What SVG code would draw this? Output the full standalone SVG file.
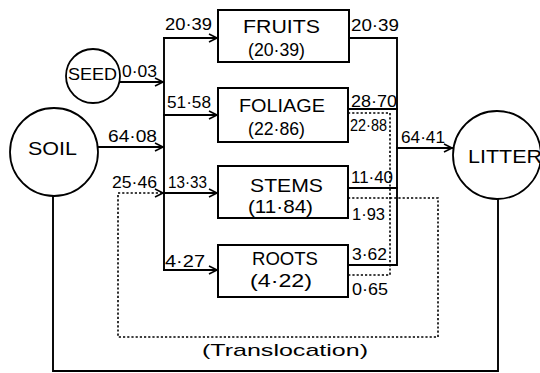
<svg xmlns="http://www.w3.org/2000/svg" width="540" height="373" viewBox="0 0 540 373">
<style>
.ln{fill:none;stroke:#000;stroke-width:1.9;stroke-linecap:square}
.dt{fill:none;stroke:#000;stroke-width:1.6;stroke-dasharray:2.2 2}
.bx{fill:#fff;stroke:#000;stroke-width:2}
.nd{fill:#fff;stroke:#000;stroke-width:1.8}
.t{font-family:"Liberation Sans",Arial,sans-serif;font-size:17px;fill:#000}
.b{font-family:"Liberation Sans",Arial,sans-serif;font-size:19px;fill:#000}
</style>
<defs>
<marker id="ah" markerUnits="userSpaceOnUse" markerWidth="12" markerHeight="12" refX="9" refY="5" orient="auto">
<path d="M1,1 L9,5 L1,9" fill="none" stroke="#000" stroke-width="1.6"/>
</marker>
</defs>
<rect width="540" height="373" fill="#fff"/>
<g id="connectors">
<path class="ln" d="M164,38 V270"/>
<path class="ln" d="M164,38 H217" marker-end="url(#ah)"/>
<path class="ln" d="M164,115 H217" marker-end="url(#ah)"/>
<path class="ln" d="M164,193 H217" marker-end="url(#ah)"/>
<path class="ln" d="M164,270 H217" marker-end="url(#ah)"/>
<path class="ln" d="M120,82 H163" marker-end="url(#ah)"/>
<path class="ln" d="M98,147 H163" marker-end="url(#ah)"/>
<path class="ln" d="M349,38 H397 V265 H348"/>
<path class="ln" d="M348,109 H397"/>
<path class="ln" d="M348,188 H397"/>
<path class="ln" d="M397,148 H452" marker-end="url(#ah)"/>
<path class="dt" d="M348,113 H390 V275 H348"/>
<path class="dt" d="M348,198 H438 V337 H118 V193 H163" marker-end="url(#ah)"/>
<path class="ln" d="M53,196 V371 H498 V199"/>
</g>
<g id="seed"><circle class="nd" cx="93" cy="76" r="27"/><text class="t" x="68" y="80" textLength="49" lengthAdjust="spacingAndGlyphs">SEED</text></g>
<g id="soil"><circle class="nd" cx="54" cy="152" r="44"/><text class="b" x="28" y="155" textLength="49" lengthAdjust="spacingAndGlyphs">SOIL</text></g>
<g id="litter"><circle class="nd" cx="497" cy="155" r="44"/><text class="b" x="468" y="163" textLength="74" lengthAdjust="spacingAndGlyphs">LITTER</text></g>
<g id="fruits"><rect class="bx" x="218" y="10" width="131" height="52"/><text class="b" x="243" y="33" textLength="77" lengthAdjust="spacingAndGlyphs">FRUITS</text><text class="b" x="248" y="56" textLength="57" lengthAdjust="spacingAndGlyphs">(20·39)</text></g>
<g id="foliage"><rect class="bx" x="218" y="88" width="130" height="54"/><text class="b" x="239" y="112" textLength="86" lengthAdjust="spacingAndGlyphs">FOLIAGE</text><text class="b" x="248" y="135" textLength="57" lengthAdjust="spacingAndGlyphs">(22·86)</text></g>
<g id="stems"><rect class="bx" x="218" y="166" width="130" height="52"/><text class="b" x="250" y="192" textLength="73" lengthAdjust="spacingAndGlyphs">STEMS</text><text class="b" x="248" y="213" textLength="65" lengthAdjust="spacingAndGlyphs">(11·84)</text></g>
<g id="roots"><rect class="bx" x="218" y="245" width="130" height="52"/><text class="b" x="252" y="265" textLength="66" lengthAdjust="spacingAndGlyphs">ROOTS</text><text class="b" x="250" y="287" textLength="62" lengthAdjust="spacingAndGlyphs">(4·22)</text></g>
<g id="labels">
<text class="t" x="165" y="30" textLength="47" lengthAdjust="spacingAndGlyphs">20·39</text>
<text class="t" x="122" y="77" textLength="35" lengthAdjust="spacingAndGlyphs">0·03</text>
<text class="t" x="167" y="108" textLength="44" lengthAdjust="spacingAndGlyphs">51·58</text>
<text class="t" x="108" y="142" textLength="49" lengthAdjust="spacingAndGlyphs">64·08</text>
<text class="t" x="112" y="188" textLength="45" lengthAdjust="spacingAndGlyphs">25·46</text>
<text class="t" x="168" y="188" textLength="39" lengthAdjust="spacingAndGlyphs">13·33</text>
<text class="t" x="165" y="267" textLength="40" lengthAdjust="spacingAndGlyphs">4·27</text>
<text class="t" x="351" y="31" textLength="48" lengthAdjust="spacingAndGlyphs">20·39</text>
<text class="t" x="351" y="107" textLength="46" lengthAdjust="spacingAndGlyphs">28·70</text>
<text class="t" x="350" y="131" textLength="37" lengthAdjust="spacingAndGlyphs">22·88</text>
<text class="t" x="401" y="143" textLength="44" lengthAdjust="spacingAndGlyphs">64·41</text>
<text class="t" x="351" y="183" textLength="42" lengthAdjust="spacingAndGlyphs">11·40</text>
<text class="t" x="352" y="220" textLength="33" lengthAdjust="spacingAndGlyphs">1·93</text>
<text class="t" x="352" y="260" textLength="35" lengthAdjust="spacingAndGlyphs">3·62</text>
<text class="t" x="352" y="295" textLength="36" lengthAdjust="spacingAndGlyphs">0·65</text>
<text class="t" x="202" y="356" textLength="166" lengthAdjust="spacingAndGlyphs">(Translocation)</text>
</g>
</svg>
